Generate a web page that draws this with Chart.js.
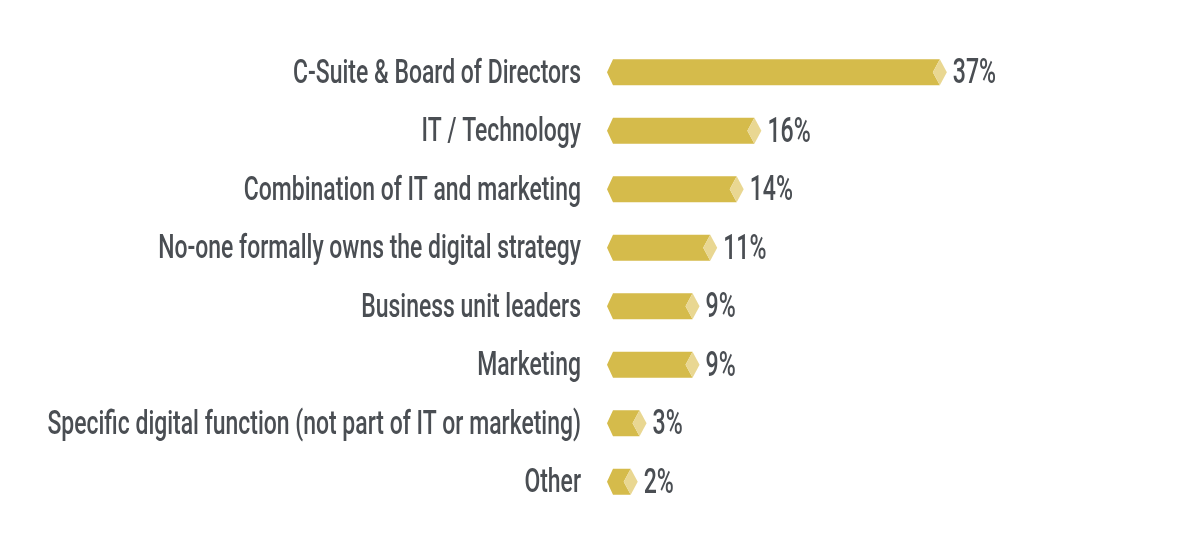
<!DOCTYPE html>
<html>
<head>
<meta charset="utf-8">
<script src="https://cdn.jsdelivr.net/npm/chart.js@4/dist/chart.umd.min.js"></script>
<style>
  html, body { margin: 0; padding: 0; background: #fff; }
  canvas { display: block; }
</style>
</head>
<body>
<canvas id="myChart" width="1190" height="557"></canvas>
<script>
// categories and values
const categories = [
  "C-Suite & Board of Directors",
  "IT / Technology",
  "Combination of IT and marketing",
  "No-one formally owns the digital strategy",
  "Business unit leaders",
  "Marketing",
  "Specific digital function (not part of IT or marketing)",
  "Other"
];
const values = [37, 16, 14, 11, 9, 9, 3, 2];
const valueLabels = ["37%", "16%", "14%", "11%", "9%", "9%", "3%", "2%"];

const gold = "#d5bb4b";
const goldLight = "#e9d792";
const textColor = "#4a4e53";
const xMin = -0.8;

// condensed text, the original uses a narrow display face
function condensedText(ctx, str, x, y, size, align, squeeze) {
  ctx.save();
  ctx.font = "500 " + size + "px Roboto, 'Noto Sans', sans-serif";
  ctx.fillStyle = textColor;
  ctx.textBaseline = "middle";
  ctx.textAlign = align;
  ctx.translate(x, y);
  ctx.scale(squeeze, 1);
  ctx.fillText(str, 0, 0);
  ctx.restore();
}

// draws each bar as a hexagon with a light diamond tip, plus the labels
const hexBars = {
  id: "hexBars",
  afterDatasetsDraw(chart) {
    const ctx = chart.ctx;
    const xScale = chart.scales.x;
    const base = xScale.getPixelForValue(xMin);
    const meta = chart.getDatasetMeta(0);
    meta.data.forEach((bar, i) => {
      const { x, y, height } = bar.getProps(["x", "y", "height"], true);
      const top = y - height / 2;
      const bottom = y + height / 2;

      ctx.fillStyle = gold;
      ctx.beginPath();
      ctx.moveTo(base - 6, y);
      ctx.lineTo(base, top);
      ctx.lineTo(x - 7, top);
      ctx.lineTo(x - 14, y);
      ctx.lineTo(x - 7, bottom);
      ctx.lineTo(base, bottom);
      ctx.closePath();
      ctx.fill();

      ctx.fillStyle = goldLight;
      ctx.beginPath();
      ctx.moveTo(x - 14, y);
      ctx.lineTo(x - 7, top);
      ctx.lineTo(x, y);
      ctx.lineTo(x - 7, bottom);
      ctx.closePath();
      ctx.fill();

      condensedText(ctx, valueLabels[i], x + 6, y + 2, 35, "left", 0.66);
      condensedText(ctx, categories[i], base - 32, y + 2, 34, "right", 0.675);
    });
  }
};

const ctx = document.getElementById("myChart").getContext("2d");

const chart = new Chart(ctx, {
  type: "bar",
  data: {
    labels: categories,
    datasets: [{
      data: values,
      base: xMin,
      backgroundColor: "rgba(0,0,0,0)",
      barThickness: 26
    }]
  },
  options: {
    indexAxis: "y",
    responsive: false,
    animation: false,
    layout: {
      padding: { left: 613, right: 40, top: 43, bottom: 46 }
    },
    plugins: {
      legend: { display: false },
      tooltip: { enabled: false }
    },
    scales: {
      x: { display: false, min: xMin, max: 60 },
      y: { display: false }
    }
  },
  plugins: [hexBars]
});
</script>
</body>
</html>
